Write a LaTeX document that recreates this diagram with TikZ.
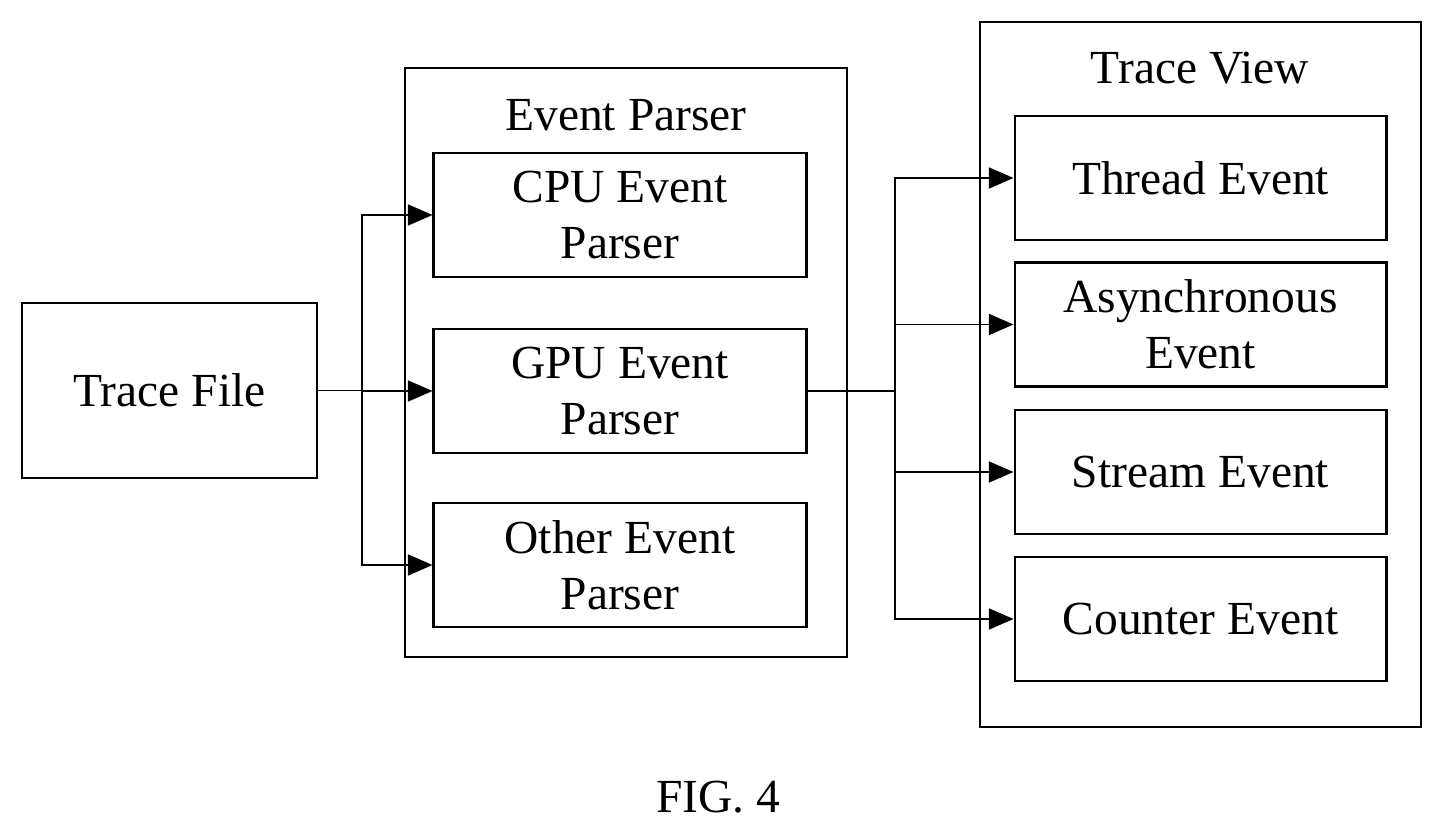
\documentclass[tikz,border=0pt]{standalone}
\usepackage{fontspec}
\setmainfont{Liberation Serif}
\usetikzlibrary{arrows.meta,positioning}

\tikzset{
  box/.style={draw,thick,align=center,inner sep=0pt,font=\fontsize{13.5}{16}\selectfont},
  lbl/.style={font=\fontsize{13.5}{16}\selectfont},
  link/.style={-{Triangle[length=7pt,width=6pt]},thin}
}

\begin{document}
\begin{tikzpicture}[x=0.01cm,y=-0.01cm]
  \useasboundingbox (0,0) rectangle (1443,834);

  % outer frames
  \draw[thick] (405,68) rectangle (847,657);
  \draw[thick] (980,22) rectangle (1421,727);
  \node[lbl] (eptitle) at (626,115) {Event Parser};
  \node[lbl] (tvtitle) at (1200,68) {Trace View};

  % boxes
  \node[box,minimum width=2.95cm,minimum height=1.75cm] (file) at (169.5,390.5) {Trace File};

  \node[box,minimum width=3.72cm,minimum height=1.24cm] (cpu) at (620,215) {CPU Event\\Parser};
  \node[box,minimum width=3.72cm,minimum height=1.24cm] (gpu) at (620,391) {GPU Event\\Parser};
  \node[box,minimum width=3.72cm,minimum height=1.24cm] (other) at (620,565) {Other Event\\Parser};

  \node[box,minimum width=3.71cm,minimum height=1.24cm] (thread) at (1200.5,178) {Thread Event};
  \node[box,minimum width=3.71cm,minimum height=1.24cm] (async) at (1200.5,324.5) {Asynchronous\\Event};
  \node[box,minimum width=3.71cm,minimum height=1.24cm] (stream) at (1200.5,472) {Stream Event};
  \node[box,minimum width=3.71cm,minimum height=1.24cm] (counter) at (1200.5,619) {Counter Event};

  % connectors
  \coordinate (busl) at (362,390.5);
  \coordinate (busr) at (895,391);
  \draw[thin] (file.east) -- (busl);
  \foreach \t in {cpu,gpu,other}
    \draw[link] (busl) |- (\t.west);
  \draw[thin] (gpu.east) -- (busr);
  \foreach \t in {thread,async,stream,counter}
    \draw[link] (busr) |- (\t.west);

  \node[lbl] (fig) at (718,797) {FIG. 4};
\end{tikzpicture}
\end{document}
